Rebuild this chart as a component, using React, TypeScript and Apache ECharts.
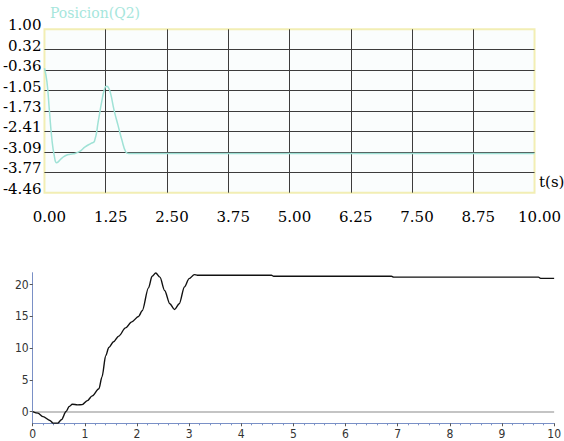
import React, { useEffect, useRef } from "react";
import * as echarts from "echarts";

// ---- Top chart: Posicion(Q2) ----
const topT = [0, 0.05, 0.1, 0.15, 0.2, 0.25, 0.35, 0.47, 0.59, 0.71, 0.83, 0.95, 1.02, 1.1, 1.17, 1.22, 1.26, 1.3, 1.35, 1.42, 1.5, 1.58, 1.66, 1.72, 10];
const topV = [-0.3, -0.75, -1.7, -2.65, -3.22, -3.46, -3.31, -3.19, -3.16, -3.09, -2.93, -2.81, -2.74, -2.05, -1.4, -1.03, -0.9, -0.93, -1.15, -1.7, -2.2, -2.7, -3.1, -3.15, -3.15];
const topYLabels = ["1.00", "0.32", "-0.36", "-1.05", "-1.73", "-2.41", "-3.09", "-3.77", "-4.46"];
const topXMin = 0;
const topXMax = 10;
const topXStep = 1.25;
const topYMin = -4.46;
const topYMax = 1.0;

// ---- Bottom chart ----
const botT = [0, 0.1, 0.2, 0.33, 0.39, 0.48, 0.55, 0.64, 0.7, 0.76, 0.86, 0.95, 1.05, 1.14, 1.27, 1.33, 1.4, 1.46, 1.55, 1.65, 1.78, 1.9, 2.03, 2.1, 2.22, 2.29, 2.36, 2.44, 2.53, 2.63, 2.72, 2.81, 2.91, 3.0, 3.1, 3.16, 4.58, 4.62, 6.88, 6.92, 9.7, 9.74, 10];
const botV = [0, -0.25, -0.8, -1.41, -1.82, -1.82, -1.3, 0, 0.79, 1.16, 1.05, 1.1, 1.73, 2.47, 3.6, 5.5, 8.8, 10.1, 11.0, 11.9, 13.2, 14.15, 15.0, 15.9, 19.5, 21.34, 21.86, 21.2, 19.1, 17.0, 16.1, 17.0, 19.65, 20.97, 21.6, 21.5, 21.5, 21.35, 21.35, 21.2, 21.2, 21.0, 21.0];
const botYMin = -1.85;
const botYMax = 21.9;

const SERIF = "DejaVu Serif";
const NARROW = "DejaVu Sans Condensed, DejaVu Sans, sans-serif";

export default function App() {
  const ref = useRef<HTMLDivElement>(null);
  useEffect(() => {
    if (!ref.current) return;
    const chart = echarts.init(ref.current, undefined, { renderer: "svg" });
    const gridLineColor = "#3c3c3c";
    const axisBlue = "#7a90c6";
    chart.setOption({
      animation: false,
      backgroundColor: "#ffffff",
      grid: [
        {
          left: 42.7,
          top: 29.3,
          width: 495.6,
          height: 163.4,
          show: true,
          borderColor: "#f2eeb4",
          borderWidth: 2,
          backgroundColor: "#fafdfd",
        },
        {
          left: 32.7,
          top: 272.7,
          right: 1.7,
          bottom: 17.7,
        },
      ],
      xAxis: [
        {
          type: "value",
          gridIndex: 0,
          min: topXMin,
          max: topXMax,
          interval: topXStep,
          axisLine: { show: false },
          axisTick: { show: false },
          splitLine: {
            show: true,
            showMinLine: false,
            showMaxLine: false,
            lineStyle: { color: gridLineColor, width: 1 },
          },
          axisLabel: {
            fontFamily: SERIF,
            fontSize: 15,
            color: "#000",
            margin: 17,
            padding: [0, 0, 0, 10],
            formatter: (v: number) => v.toFixed(2),
          },
        },
        {
          type: "value",
          gridIndex: 1,
          min: 0,
          max: 10,
          interval: 1,
          axisLine: { show: true, onZero: false, lineStyle: { color: axisBlue, width: 1 } },
          axisTick: { show: true, length: 3, lineStyle: { color: "#555" } },
          minorTick: { show: true, splitNumber: 5, length: 2, lineStyle: { color: axisBlue } },
          splitLine: { show: false },
          axisLabel: {
            fontFamily: NARROW,
            fontSize: 12,
            color: "#333",
            margin: 5,
          },
        },
      ],
      yAxis: [
        {
          type: "value",
          gridIndex: 0,
          position: "right",
          min: topYMin,
          max: topYMax,
          show: false,
          splitLine: { show: false },
        },
        {
          type: "value",
          gridIndex: 0,
          position: "left",
          min: 0,
          max: 8,
          interval: 1,
          axisLine: { show: false },
          axisTick: { show: false },
          splitLine: {
            show: true,
            showMinLine: false,
            showMaxLine: false,
            lineStyle: { color: gridLineColor, width: 1 },
          },
          axisLabel: {
            fontFamily: SERIF,
            fontSize: 15,
            color: "#000",
            margin: 3,
            align: "right",
            verticalAlign: "bottom",
            lineHeight: 8,
            formatter: (v: number) => topYLabels[8 - Math.round(v)],
          },
        },
        {
          type: "value",
          gridIndex: 1,
          min: botYMin,
          max: botYMax,
          splitNumber: 5,
          axisLine: { show: true, onZero: false, lineStyle: { color: axisBlue, width: 1 } },
          axisTick: { show: true, length: 3, lineStyle: { color: "#555" } },
          splitLine: { show: false },
          axisLabel: {
            fontFamily: NARROW,
            fontSize: 12,
            color: "#333",
            margin: 4,
            showMinLabel: false,
            showMaxLabel: false,
          },
        },
      ],
      graphic: [
        {
          type: "text",
          left: 50,
          top: 6,
          style: {
            text: "Posicion(Q2)",
            fontFamily: SERIF,
            fontSize: 14,
            fill: "#a6e6dc",
          },
        },
        {
          type: "text",
          left: 539,
          top: 174,
          style: {
            text: "t(s)",
            fontFamily: SERIF,
            fontSize: 15,
            fill: "#000",
          },
        },
      ],
      series: [
        {
          type: "line",
          xAxisIndex: 0,
          yAxisIndex: 0,
          data: topT.map((t, i) => [t, topV[i]]),
          showSymbol: false,
          smooth: 0.5,
          lineStyle: { color: "#9fe2d6", width: 1.5 },
          z: 5,
        },
        {
          type: "line",
          xAxisIndex: 1,
          yAxisIndex: 2,
          data: botT.map((t, i) => [t, botV[i]]),
          showSymbol: false,
          smooth: 0.3,
          smoothMonotone: "x",
          lineStyle: { color: "#111", width: 1.4 },
          markLine: {
            silent: true,
            symbol: "none",
            label: { show: false },
            lineStyle: { color: "#c4c4c4", width: 2, type: "solid" },
            data: [{ yAxis: 0 }],
            z: 1,
          },
          z: 5,
        },
      ],
    });
    return () => chart.dispose();
  }, []);
  return (
    <div
      ref={ref}
      style={{ position: "fixed", left: 0, top: 0, width: 564, height: 441 }}
    />
  );
}
